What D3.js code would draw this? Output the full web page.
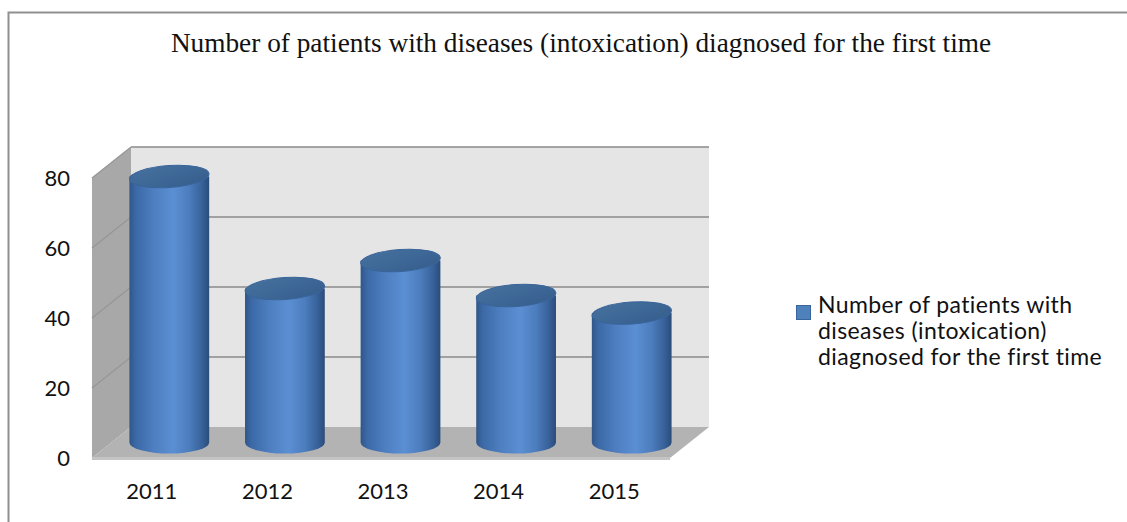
<!DOCTYPE html>
<html>
<head>
<meta charset="utf-8">
<script src="https://cdn.jsdelivr.net/npm/d3@7"></script>
<style>
  html, body { margin: 0; padding: 0; background: #fff; overflow: hidden; }
</style>
</head>
<body>
<div id="chart"></div>
<script>
// chart data
const years = ["2011", "2012", "2013", "2014", "2015"];
const patients = [76, 44, 52, 42, 37];
const yTicks = [0, 20, 40, 60, 80];
const seriesName = "Number of patients with diseases (intoxication) diagnosed for the first time";
const legendLines = ["Number of patients with", "diseases (intoxication)", "diagnosed for the first time"];

const width = 1127;
const height = 522;

const svg = d3.select("#chart")
    .append("svg")
    .attr("width", width)
    .attr("height", height);

const defs = svg.append("defs");

// cylinder body shading
const bodyGrad = defs.append("linearGradient")
    .attr("id", "cylBody")
    .attr("x1", "0").attr("x2", "1").attr("y1", "0").attr("y2", "0");
[[0, "#2f5688"], [0.08, "#3c69a6"], [0.3, "#4d7ec0"], [0.55, "#5b8fd3"], [0.75, "#4c7dbd"], [0.92, "#365f96"], [1, "#2a4c7a"]]
    .forEach(s => bodyGrad.append("stop").attr("offset", s[0]).attr("stop-color", s[1]));

const topGrad = defs.append("linearGradient")
    .attr("id", "cylTop")
    .attr("x1", "0").attr("x2", "1").attr("y1", "0").attr("y2", "1");
[[0, "#46729f"], [1, "#355d8d"]]
    .forEach(s => topGrad.append("stop").attr("offset", s[0]).attr("stop-color", s[1]));

// outer frame (cut by the picture on right/bottom)
svg.append("rect")
    .attr("x", 8.5).attr("y", 12.5)
    .attr("width", 1300).attr("height", 700)
    .attr("fill", "none")
    .attr("stroke", "#8f8f8f")
    .attr("stroke-width", 2);

// title
svg.append("text")
    .attr("x", 581)
    .attr("y", 52)
    .attr("text-anchor", "middle")
    .style("font-family", "'Liberation Serif', 'Times New Roman', serif")
    .style("font-size", "27.3px")
    .style("fill", "#111")
    .text(seriesName);

// scales (front plane) + depth offset
const x = d3.scaleBand().domain(years).range([92, 670]);
const y = d3.scaleLinear().domain([0, 80]).range([458, 178]);
const depthX = 39, depthY = -31;
const midX = depthX / 2, midY = depthY / 2;

const line = d3.line();

// back wall
svg.append("path")
    .attr("d", line([
        [x.range()[0] + depthX, y(80) + depthY],
        [x.range()[1] + depthX, y(80) + depthY],
        [x.range()[1] + depthX, y(0) + depthY],
        [x.range()[0] + depthX, y(0) + depthY]
    ]) + "Z")
    .attr("fill", "#e5e5e5");

// left wall
svg.append("path")
    .attr("d", line([
        [x.range()[0], y(0)],
        [x.range()[0], y(80)],
        [x.range()[0] + depthX, y(80) + depthY],
        [x.range()[0] + depthX, y(0) + depthY]
    ]) + "Z")
    .attr("fill", "#a8a8a8");

// gridlines on back wall and left wall
const grid = svg.append("g");
yTicks.filter(t => t > 0).forEach(t => {
    grid.append("line")
        .attr("x1", x.range()[0] + depthX).attr("x2", x.range()[1] + depthX)
        .attr("y1", y(t) + depthY).attr("y2", y(t) + depthY)
        .attr("stroke", "#8a8a8a")
        .attr("stroke-width", 1.6);
    grid.append("line")
        .attr("x1", x.range()[0]).attr("x2", x.range()[0] + depthX)
        .attr("y1", y(t)).attr("y2", y(t) + depthY)
        .attr("stroke", "#969696")
        .attr("stroke-width", 1.2);
});

// floor
svg.append("path")
    .attr("d", line([
        [x.range()[0], y(0)],
        [x.range()[1], y(0)],
        [x.range()[1] + depthX, y(0) + depthY],
        [x.range()[0] + depthX, y(0) + depthY]
    ]) + "Z")
    .attr("fill", "#b3b3b3");
svg.append("rect")
    .attr("x", x.range()[0])
    .attr("y", y(0) - 1)
    .attr("width", x.range()[1] - x.range()[0])
    .attr("height", 3)
    .attr("fill", "#c4c4c4");

// cylinders
const r = x.bandwidth() * 0.345;
const ry = 11;
const cyl = svg.append("g")
    .selectAll("g")
    .data(years.map((yr, i) => ({ year: yr, value: patients[i] })))
    .enter()
    .append("g");

cyl.append("path")
    .attr("d", d => {
        const cx = x(d.year) + x.bandwidth() / 2 + midX;
        const yb = y(0) + midY;
        const yt = y(d.value) + midY;
        return `M${cx - r},${yt} L${cx - r},${yb} A${r},${ry} 0 0 0 ${cx + r},${yb} L${cx + r},${yt} Z`;
    })
    .attr("fill", "url(#cylBody)");

cyl.append("ellipse")
    .attr("cx", d => x(d.year) + x.bandwidth() / 2 + midX)
    .attr("cy", d => y(d.value) + midY)
    .attr("rx", r)
    .attr("ry", ry)
    .attr("transform", d => `rotate(-4 ${x(d.year) + x.bandwidth() / 2 + midX} ${y(d.value) + midY})`)
    .attr("fill", "url(#cylTop)")
    .attr("stroke", "#3a659a")
    .attr("stroke-width", 1);

// y axis labels
svg.append("g")
    .selectAll("text")
    .data(yTicks)
    .enter()
    .append("text")
    .attr("x", 70)
    .attr("y", d => y(d))
    .attr("dy", "0.35em")
    .attr("text-anchor", "end")
    .style("font-family", "Lato, 'Open Sans', sans-serif")
    .style("font-size", "22px")
    .style("fill", "#111")
    .text(d => d);

// x axis labels
svg.append("g")
    .selectAll("text")
    .data(years)
    .enter()
    .append("text")
    .attr("x", d => x(d) + x.bandwidth() / 2 + 2)
    .attr("y", 491)
    .attr("dy", "0.35em")
    .attr("text-anchor", "middle")
    .style("font-family", "Lato, 'Open Sans', sans-serif")
    .style("font-size", "22px")
    .style("fill", "#111")
    .text(d => d);

// legend
const legend = svg.append("g");
legend.append("rect")
    .attr("x", 796.5).attr("y", 305.5)
    .attr("width", 14).attr("height", 14)
    .attr("fill", "#4f81bd")
    .attr("stroke", "#3a659a");
legend.selectAll("text")
    .data(legendLines)
    .enter()
    .append("text")
    .attr("x", 818)
    .attr("y", (d, i) => 313 + i * 26)
    .style("font-family", "Lato, 'Open Sans', sans-serif")
    .style("font-size", "23px")
    .style("letter-spacing", "0.4px")
    .style("fill", "#111")
    .text(d => d);
</script>
</body>
</html>
